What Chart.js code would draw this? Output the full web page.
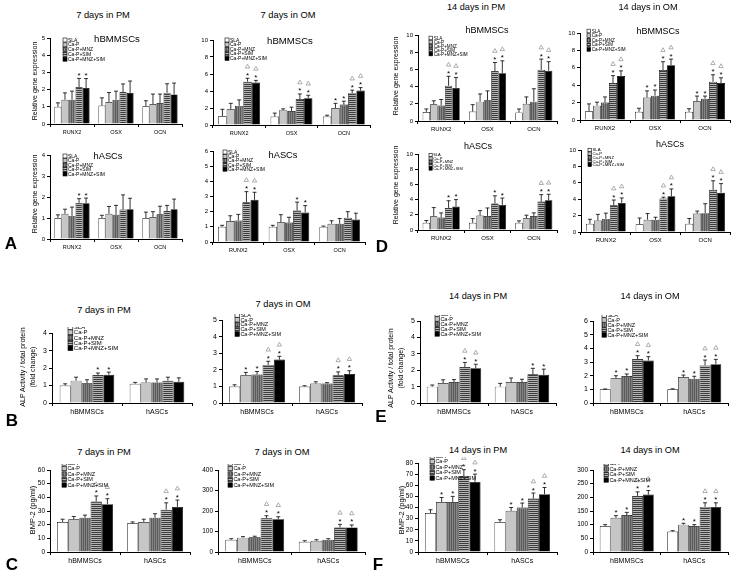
<!DOCTYPE html>
<html>
<head>
<meta charset="utf-8">
<script src="https://cdn.jsdelivr.net/npm/chart.js@4.4.0/dist/chart.umd.min.js"></script>
<style>
body { margin: 0; background: #fff; width: 732px; height: 585px; position: relative; overflow: hidden;
       font-family: "Liberation Sans", Arial, sans-serif; color: #000; }
canvas { position: absolute; }
.t { position: absolute; white-space: nowrap; transform: translate(-50%, -50%); }
.yl { position: absolute; white-space: nowrap; text-align: center; line-height: 10px;
      transform: translate(-50%, -50%) rotate(-90deg); }
.lt { position: absolute; font-weight: bold; font-size: 17px; transform: translate(-50%, -50%); }
</style>
</head>
<body>
<script>
const seriesNames = ['SLA', 'Ca-P', 'Ca-P+MNZ', 'Ca-P+SIM', 'Ca-P+MNZ+SIM'];
const geneCats = ['RUNX2', 'OSX', 'OCN'];
const cellCats = ['hBMMSCs', 'hASCs'];

// values are [series][category]; marks list the series index per category

// A - 7 days, relative gene expression
const a1Val = [[1.0, 1.07, 1.03], [1.41, 1.28, 1.16], [1.41, 1.41, 1.22], [2.15, 1.86, 1.82], [2.09, 1.8, 1.72]];
const a1Err = [[0.23, 0.45, 0.32], [0.4, 0.55, 0.58], [0.5, 0.5, 0.52], [0.5, 0.47, 0.52], [0.55, 0.7, 0.66]];
const a1Star = [[3, 4], [], []];
const a1Tri = [[], [], []];

const a2Val = [[1.05, 1.0, 1.0], [1.85, 1.75, 2.0], [2.25, 1.65, 2.4], [5.1, 3.05, 3.75], [5.0, 3.15, 4.05]];
const a2Err = [[0.8, 0.4, 0.15], [0.7, 0.15, 0.55], [0.7, 0.45, 0.4], [0.4, 0.6, 0.35], [0.25, 0.35, 0.35]];
const a2Star = [[3, 4], [3, 4], [1, 2, 3, 4]];
const a2Tri = [[3, 4], [3, 4], [3, 4]];

const a3Val = [[1.0, 1.0, 1.0], [1.2, 1.2, 1.05], [1.1, 1.15, 1.18], [1.72, 1.4, 1.33], [1.7, 1.42, 1.42]];
const a3Err = [[0.15, 0.13, 0.28], [0.22, 0.35, 0.25], [0.42, 0.45, 0.38], [0.2, 0.7, 0.27], [0.25, 0.52, 0.48]];
const a3Star = [[3, 4], [], []];
const a3Tri = [[], [], []];

const a4Val = [[1.0, 1.0, 1.0], [1.38, 1.3, 1.2], [1.42, 1.28, 1.2], [2.62, 2.08, 1.6], [2.78, 1.95, 1.48]];
const a4Err = [[0.1, 0.1, 0.05], [0.35, 0.5, 0.2], [0.4, 0.35, 0.35], [0.7, 0.55, 0.4], [0.5, 0.45, 0.42]];
const a4Star = [[3, 4], [3, 4], []];
const a4Tri = [[3, 4], [], []];

// D - 14 days, relative gene expression
const d1Val = [[1.05, 1.1, 1.0], [1.95, 2.25, 2.0], [1.8, 2.4, 2.25], [4.1, 5.8, 5.95], [3.85, 5.55, 5.85]];
const d1Err = [[0.35, 0.8, 0.4], [0.4, 0.9, 0.8], [0.7, 1.1, 1.5], [1.1, 1.0, 1.25], [1.2, 1.45, 1.05]];
const d1Star = [[3, 4], [3, 4], [3, 4]];
const d1Tri = [[3, 4], [3, 4], [3, 4]];

const d2Val = [[1.0, 0.95, 0.95], [1.65, 2.6, 2.15], [2.0, 2.8, 2.45], [4.25, 5.75, 4.4], [5.05, 6.3, 4.25]];
const d2Err = [[0.85, 0.4, 0.35], [0.4, 0.75, 0.6], [0.65, 0.65, 0.3], [0.85, 0.95, 0.8], [0.6, 0.7, 0.6]];
const d2Star = [[3, 4], [1, 2, 3, 4], [1, 2, 3, 4]];
const d2Tri = [[3, 4], [3, 4], [3, 4]];

const d3Val = [[0.95, 0.95, 0.95], [1.8, 1.9, 1.55], [1.65, 1.85, 1.85], [2.9, 3.5, 3.75], [3.1, 3.3, 3.9]];
const d3Err = [[0.3, 0.55, 0.25], [1.15, 0.65, 0.4], [0.6, 1.05, 0.4], [0.95, 1.0, 0.9], [0.9, 0.9, 0.8]];
const d3Star = [[3, 4], [3, 4], [3, 4]];
const d3Tri = [[], [], [3, 4]];

const d4Val = [[1.0, 0.95, 1.0], [1.4, 1.5, 2.25], [1.6, 1.5, 2.3], [3.25, 4.1, 5.15], [3.55, 4.35, 4.8]];
const d4Err = [[0.55, 0.75, 0.65], [0.75, 0.75, 0.3], [0.7, 0.3, 1.15], [0.65, 0.15, 1.1], [0.6, 0.9, 1.1]];
const d4Star = [[3, 4], [3, 4], [3, 4]];
const d4Tri = [[3, 4], [3, 4], [3, 4]];

// B / E - ALP activity
const b1Val = [[1.0, 1.1], [1.28, 1.18], [1.13, 1.18], [1.6, 1.28], [1.62, 1.22]];
const b1Err = [[0.1, 0.08], [0.2, 0.2], [0.2, 0.2], [0.12, 0.2], [0.15, 0.22]];
const b1Star = [[3, 4], []];
const b1Tri = [[], []];

const b2Val = [[1.0, 1.0], [1.68, 1.18], [1.72, 1.18], [2.3, 1.68], [2.62, 1.75]];
const b2Err = [[0.1, 0.04], [0.17, 0.1], [0.18, 0.05], [0.22, 0.2], [0.2, 0.2]];
const b2Star = [[1, 2, 3, 4], [3, 4]];
const b2Tri = [[3, 4], [3, 4]];

const e1Val = [[1.0, 1.0], [1.22, 1.28], [1.28, 1.28], [2.2, 1.75], [2.12, 1.72]];
const e1Err = [[0.1, 0.2], [0.2, 0.25], [0.15, 0.17], [0.28, 0.37], [0.25, 0.35]];
const e1Star = [[3, 4], [3, 4]];
const e1Tri = [[3, 4], []];

const e2Val = [[1.0, 1.0], [1.82, 1.9], [1.98, 1.78], [3.22, 2.75], [3.12, 2.85]];
const e2Err = [[0.03, 0.04], [0.18, 0.15], [0.15, 0.18], [0.25, 0.4], [0.28, 0.35]];
const e2Star = [[1, 2, 3, 4], [1, 2, 3, 4]];
const e2Tri = [[3, 4], [3, 4]];

// C / F - BMP-2 (pg/ml)
const c1Val = [[22, 21], [24, 22], [25, 25], [37, 31], [35, 33]];
const c1Err = [[2, 1], [2, 2], [2, 3], [4, 5], [4, 5]];
const c1Star = [[3, 4], [3, 4]];
const c1Tri = [[3, 4], [3, 4]];

const c2Val = [[60, 50], [70, 55], [72, 60], [165, 120], [160, 120]];
const c2Err = [[5, 5], [5, 5], [5, 5], [12, 15], [12, 12]];
const c2Star = [[3, 4], [3, 4]];
const c2Tri = [[3, 4], [3, 4]];

const f1Val = [[35, 27], [45, 37], [45, 40], [68, 48], [63, 52]];
const f1Err = [[3, 2], [4, 3], [5, 4], [6, 5], [7, 6]];
const f1Star = [[1, 2, 3, 4], [1, 2, 3, 4]];
const f1Tri = [[3, 4], [3, 4]];

const f2Val = [[95, 75], [125, 100], [135, 95], [205, 165], [210, 165]];
const f2Err = [[5, 3], [8, 5], [10, 5], [15, 15], [15, 15]];
const f2Star = [[1, 2, 3, 4], [1, 2, 3, 4]];
const f2Tri = [[3, 4], [3, 4]];

const FONT = '"Liberation Sans", Arial, sans-serif';

function pattern(bg, fg, vertical) {
    const c = document.createElement('canvas');
    c.width = 2; c.height = 2;
    const g = c.getContext('2d');
    g.fillStyle = bg; g.fillRect(0, 0, 2, 2);
    g.fillStyle = fg;
    if (vertical) g.fillRect(0, 0, 1, 2); else g.fillRect(0, 0, 2, 1);
    return g.createPattern(c, 'repeat');
}
const fills = ['#ffffff', '#c6c6c6', pattern('#5a5a5a', '#858585', true), pattern('#b4b4b4', '#3c3c3c', false), '#000000'];

// error bars, asterisks and triangles
function marksPlugin(s) {
    return {
        id: 'marks',
        afterDatasetsDraw(chart) {
            const ctx = chart.ctx, y = chart.scales.y;
            ctx.save();
            s.val.forEach((vals, si) => {
                const bars = chart.getDatasetMeta(si).data;
                vals.forEach((v, ci) => {
                    const bx = bars[ci].x;
                    const yv = y.getPixelForValue(v);
                    const ye = y.getPixelForValue(v + s.err[si][ci]);
                    ctx.strokeStyle = '#000';
                    ctx.lineWidth = 0.8;
                    ctx.beginPath();
                    ctx.moveTo(bx, yv); ctx.lineTo(bx, ye);
                    ctx.moveTo(bx - 2, ye); ctx.lineTo(bx + 2, ye);
                    ctx.stroke();
                    if (s.star[ci].includes(si)) {
                        ctx.fillStyle = '#000';
                        ctx.font = '8px ' + FONT;
                        ctx.textAlign = 'center';
                        ctx.textBaseline = 'alphabetic';
                        ctx.fillText('*', bx, ye - 0.5);
                    }
                    if (s.tri[ci].includes(si)) {
                        const ty = ye - 12;
                        ctx.strokeStyle = '#9a9a9a';
                        ctx.lineWidth = 0.8;
                        ctx.beginPath();
                        ctx.moveTo(bx, ty - 2); ctx.lineTo(bx + 2.2, ty + 1.8); ctx.lineTo(bx - 2.2, ty + 1.8);
                        ctx.closePath();
                        ctx.stroke();
                    }
                });
            });
            ctx.restore();
        }
    };
}

function legendPlugin(s, left, top) {
    return {
        id: 'boxLegend',
        afterDraw(chart) {
            const ctx = chart.ctx;
            const box = s.lf * 0.8;
            ctx.save();
            ctx.font = s.lf + 'px ' + FONT;
            ctx.textBaseline = 'middle';
            ctx.textAlign = 'left';
            chart.data.datasets.forEach((ds, i) => {
                const x = s.leg[0] - left, yy = s.leg[1] - top + i * s.leg[2];
                ctx.fillStyle = ds.backgroundColor;
                ctx.fillRect(x, yy - box / 2, box, box);
                ctx.strokeStyle = '#000';
                ctx.lineWidth = 0.6;
                ctx.strokeRect(x, yy - box / 2, box, box);
                ctx.fillStyle = '#000';
                ctx.fillText(ds.label, x + box + 1, yy + 0.3);
            });
            ctx.restore();
        }
    };
}

const specs = [
    { cats: geneCats, val: a1Val, err: a1Err, star: a1Star, tri: a1Tri, max: 5, step: 1, x0: 50, x1: 182, yTop: 38, yBot: 124, leg: [63, 40, 4.8], lf: 5, tf: 6, xf: 5.5, cp: 0.8 },
    { cats: geneCats, val: a2Val, err: a2Err, star: a2Star, tri: a2Tri, max: 10, step: 2, x0: 213, x1: 370, yTop: 40, yBot: 125, leg: [225, 40, 4.6], lf: 5, tf: 6, xf: 5.5, cp: 0.8 },
    { cats: geneCats, val: a3Val, err: a3Err, star: a3Star, tri: a3Tri, max: 4, step: 1, x0: 50, x1: 182, yTop: 155, yBot: 239, leg: [63, 156, 4.5], lf: 5, tf: 6, xf: 5.5, cp: 0.8 },
    { cats: geneCats, val: a4Val, err: a4Err, star: a4Star, tri: a4Tri, max: 6, step: 1, x0: 213, x1: 365, yTop: 151, yBot: 242, leg: [223, 152, 4.3], lf: 5, tf: 6, xf: 5.5, cp: 0.8 },
    { cats: geneCats, val: d1Val, err: d1Err, star: d1Star, tri: d1Tri, max: 10, step: 2, x0: 418, x1: 557, yTop: 35, yBot: 121, leg: [429, 38, 4], lf: 4.6, tf: 6, xf: 6, cp: 0.8 },
    { cats: geneCats, val: d2Val, err: d2Err, star: d2Star, tri: d2Tri, max: 10, step: 2, x0: 580, x1: 730, yTop: 33, yBot: 120, leg: [587, 31, 4.6], lf: 4.6, tf: 6, xf: 6, cp: 0.8 },
    { cats: geneCats, val: d3Val, err: d3Err, star: d3Star, tri: d3Tri, max: 10, step: 2, x0: 418, x1: 557, yTop: 154, yBot: 230, leg: [429, 155, 3.4], lf: 4, tf: 6, xf: 6, cp: 0.8 },
    { cats: geneCats, val: d4Val, err: d4Err, star: d4Star, tri: d4Tri, max: 10, step: 2, x0: 581, x1: 730, yTop: 150, yBot: 232, leg: [588, 150, 3.7], lf: 4.3, tf: 6, xf: 6, cp: 0.8 },
    { cats: cellCats, val: b1Val, err: b1Err, star: b1Star, tri: b1Tri, max: 4, step: 1, x0: 52, x1: 192, yTop: 333, yBot: 403, leg: [68, 327, 5.3], lf: 6, tf: 7, xf: 7, cp: 0.78 },
    { cats: cellCats, val: b2Val, err: b2Err, star: b2Star, tri: b2Tri, max: 5, step: 1, x0: 222, x1: 362, yTop: 320, yBot: 403, leg: [235, 315, 4.8], lf: 5.5, tf: 7, xf: 7, cp: 0.8 },
    { cats: cellCats, val: e1Val, err: e1Err, star: e1Star, tri: e1Tri, max: 5, step: 1, x0: 420, x1: 556, yTop: 321, yBot: 403, leg: [435, 314, 5], lf: 5.5, tf: 7, xf: 7, cp: 0.8 },
    { cats: cellCats, val: e2Val, err: e2Err, star: e2Star, tri: e2Tri, max: 6, step: 1, x0: 593, x1: 728, yTop: 321, yBot: 403, leg: [602, 315, 5], lf: 5.5, tf: 7, xf: 7, cp: 0.8 },
    { cats: cellCats, val: c1Val, err: c1Err, star: c1Star, tri: c1Tri, max: 60, step: 10, x0: 50, x1: 190, yTop: 470, yBot: 552, leg: [62, 463, 5.5], lf: 5.5, tf: 6.5, xf: 7, cp: 0.8 },
    { cats: cellCats, val: c2Val, err: c2Err, star: c2Star, tri: c2Tri, max: 400, step: 100, x0: 218, x1: 365, yTop: 470, yBot: 552, leg: [228, 463, 5.5], lf: 5.5, tf: 6.5, xf: 7, cp: 0.8 },
    { cats: cellCats, val: f1Val, err: f1Err, star: f1Star, tri: f1Tri, max: 80, step: 10, x0: 418, x1: 557, yTop: 463, yBot: 552, leg: [430, 456, 5.5], lf: 5.5, tf: 6.5, xf: 7, cp: 0.8 },
    { cats: cellCats, val: f2Val, err: f2Err, star: f2Star, tri: f2Tri, max: 300, step: 50, x0: 593, x1: 728, yTop: 470, yBot: 552, leg: [604, 458, 5.5], lf: 5.5, tf: 6.5, xf: 7, cp: 0.8 }
];

function build(s) {
    const axW = 22, padT = 6, padR = 3, axH = 16;
    const left = s.x0 - axW, top = s.yTop - padT;
    const cv = document.createElement('canvas');
    cv.width = s.x1 - s.x0 + axW + padR;
    cv.height = s.yBot - s.yTop + padT + axH;
    cv.style.left = left + 'px';
    cv.style.top = top + 'px';
    document.body.appendChild(cv);

    new Chart(cv.getContext('2d'), {
        type: 'bar',
        data: {
            labels: s.cats,
            datasets: s.val.map((v, i) => ({
                label: seriesNames[i],
                data: v,
                backgroundColor: fills[i],
                borderColor: '#000',
                borderWidth: 0.7,
                barPercentage: 1,
                categoryPercentage: s.cp
            }))
        },
        options: {
            responsive: false,
            animation: false,
            devicePixelRatio: 1,
            layout: { padding: { top: padT, right: padR, left: 0, bottom: 0 } },
            plugins: { legend: { display: false }, tooltip: { enabled: false } },
            scales: {
                x: {
                    grid: { display: true, drawOnChartArea: false, offset: true, tickLength: 3, color: '#000' },
                    border: { color: '#000', width: 1 },
                    ticks: { font: { size: s.xf, family: FONT }, color: '#000', padding: 2, maxRotation: 0, autoSkip: false },
                    afterFit(sc) { sc.height = axH; }
                },
                y: {
                    min: 0,
                    max: s.max,
                    grid: { drawOnChartArea: false, tickLength: 3, color: '#000' },
                    border: { color: '#000', width: 1 },
                    ticks: { stepSize: s.step, font: { size: s.tf, family: FONT }, color: '#000', padding: 2, autoSkip: false },
                    afterFit(sc) { sc.width = axW; }
                }
            }
        },
        plugins: [marksPlugin(s), legendPlugin(s, left, top)]
    });
}

specs.forEach(build);

function text(cls, x, y, str, size) {
    const d = document.createElement('div');
    d.className = cls;
    d.style.left = x + 'px';
    d.style.top = y + 'px';
    if (size) d.style.fontSize = size + 'px';
    d.innerHTML = str;
    document.body.appendChild(d);
}

// panel titles
text('t', 103, 15, '7 days in PM', 9.3);
text('t', 288, 15, '7 days in OM', 9.3);
text('t', 476, 7, '14 days in PM', 9.2);
text('t', 648, 7, '14 days in OM', 9.2);
text('t', 104, 310, '7 days in PM', 9.3);
text('t', 283, 304, '7 days in OM', 9.3);
text('t', 478, 296, '14 days in PM', 9.2);
text('t', 650, 296, '14 days in OM', 9.2);
text('t', 104, 452, '7 days in PM', 9.3);
text('t', 282, 452, '7 days in OM', 9.3);
text('t', 478, 450, '14 days in PM', 9.2);
text('t', 650, 450, '14 days in OM', 9.2);

// cell type titles inside the gene panels
text('t', 117, 38, 'hBMMSCs', 9.6);
text('t', 290, 40, 'hBMMSCs', 9.6);
text('t', 108, 156, 'hASCs', 9.3);
text('t', 283, 155, 'hASCs', 9.3);
text('t', 487, 30, 'hBMMSCs', 9);
text('t', 658, 31, 'hBMMSCs', 9);
text('t', 478, 146, 'hASCs', 9);
text('t', 670, 144, 'hASCs', 9);

// y axis titles
text('yl', 35, 81, 'Relative gene expression', 7);
text('yl', 35, 194, 'Relative gene expression', 7);
text('yl', 396, 76, 'Relative gene expression', 7);
text('yl', 396, 185, 'Relative gene expression', 7);
text('yl', 28, 367, 'ALP Activity / total protein<br>(fold change)', 7);
text('yl', 396, 368, 'ALP Activity / total protein<br>(fold change)', 7);
text('yl', 33, 510, 'BMP-2 (pg/ml)', 7.5);
text('yl', 402, 510, 'BMP-2 (pg/ml)', 7.5);

// panel letters
text('lt', 11, 244, 'A');
text('lt', 12, 421, 'B');
text('lt', 12, 565, 'C');
text('lt', 382, 247, 'D');
text('lt', 381, 417, 'E');
text('lt', 378, 565, 'F');
</script>
</body>
</html>
